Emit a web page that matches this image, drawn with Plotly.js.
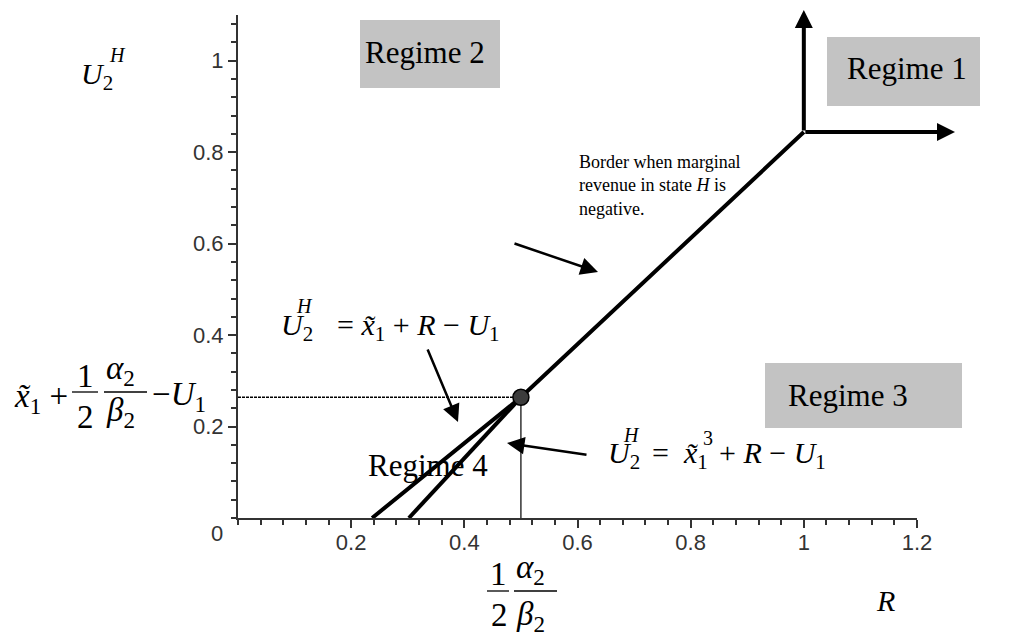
<!DOCTYPE html>
<html><head><meta charset="utf-8">
<script src="https://cdn.plot.ly/plotly-3.0.1.min.js"></script>
<style>html,body{margin:0;padding:0;background:#fff;}#chart{width:1018px;height:639px;}</style>
</head><body><div id="chart"></div>
<script>
// ---- data ----
const borderR = [0.237, 0.5, 1.0];      // border line, marginal revenue in H negative
const borderU = [0, 0.264, 0.844];
const cubicR = [0.302, 0.5];            // U2H = x1^3 + R - U1
const cubicU = [0, 0.264];
const kinkR = [0.5];
const kinkU = [0.264];
const xTickVals = [0.2, 0.4, 0.6, 0.8, 1, 1.2];
const xTickText = ['0.2', '0.4', '0.6', '0.8', '1', '1.2'];
const yTickVals = [0.2, 0.4, 0.6, 0.8, 1];
const yTickText = ['0.2', '0.4', '0.6', '0.8', '1'];
const regimeLabels = ['Regime 1', 'Regime 2', 'Regime 3', 'Regime 4'];
const borderNote = ['Border when marginal', 'revenue in state <i>H</i> is', 'negative.'];

// ---- geometry ----
const W = 1018, H = 639;
const M = {l: 238, r: 101, t: 15, b: 121};
const PW = W - M.l - M.r, PH = H - M.t - M.b;
const XR = [0, 1.2], YR = [0, 1.1];
const px = x => (x - M.l) / PW;
const py = y => (H - M.b - y) / PH;
const dataPx = (r, u) => [M.l + (r - XR[0]) / (XR[1] - XR[0]) * PW, H - M.b - (u - YR[0]) / (YR[1] - YR[0]) * PH];

const SERIF = "'Liberation Serif', 'Times New Roman', serif";
const SANS = "'Liberation Sans', Arial, sans-serif";

function txt(text, x, y, size, xa, extra) {
  return Object.assign({
    text: text, xref: 'paper', yref: 'paper', x: px(x), y: py(y),
    xanchor: xa || 'center', yanchor: 'middle', showarrow: false, align: 'left',
    font: {family: SERIF, size: size, color: '#000'}
  }, extra || {});
}
function arrow(hx, hy, tx, ty, w, s) {
  return {text: '', xref: 'paper', yref: 'paper', x: px(hx), y: py(hy),
    ax: tx - hx, ay: ty - hy, showarrow: true, arrowhead: 2, arrowsize: s,
    arrowwidth: w, arrowcolor: '#000', standoff: 0};
}
function hbar(x0, x1, y) {
  return {type: 'line', xref: 'paper', yref: 'paper', x0: px(x0), x1: px(x1), y0: py(y), y1: py(y),
    line: {color: '#000', width: 1.3}};
}
function box(x0, x1, y0, y1) {
  return {type: 'rect', xref: 'paper', yref: 'paper', x0: px(x0), x1: px(x1), y0: py(y1), y1: py(y0),
    fillcolor: '#c3c3c3', line: {width: 0}, layer: 'below'};
}

const XT = 'x\u0303';

const traces = [
  {x: [0, kinkR[0]], y: [kinkU[0], kinkU[0]], mode: 'lines', line: {color: '#000', width: 1.4, dash: '3px,1px'}, hoverinfo: 'skip'},
  {x: [kinkR[0], kinkR[0]], y: [0, kinkU[0]], mode: 'lines', line: {color: '#000', width: 1.2}, hoverinfo: 'skip'},
  {x: borderR, y: borderU, mode: 'lines', line: {color: '#000', width: 4}, hoverinfo: 'skip'},
  {x: cubicR, y: cubicU, mode: 'lines', line: {color: '#000', width: 4}, hoverinfo: 'skip'},
  {x: kinkR, y: kinkU, mode: 'markers', marker: {size: 16, color: '#3c3c3c', line: {color: '#000', width: 1.5}}, hoverinfo: 'skip'}
];

const corner = dataPx(borderR[2], borderU[2]);

const annotations = [
  // regimes
  txt(regimeLabels[0], 907, 68, 31),
  txt(regimeLabels[1], 425, 52, 31),
  txt(regimeLabels[2], 848, 395, 31),
  txt(regimeLabels[3], 428, 465, 31),
  // border note
  Object.assign(txt(borderNote.join('<br>'), 577, 150, 18, 'left'), {yanchor: 'top'}),
  arrow(598, 272, 513, 243, 2.5, 1.4),
  // corner arrows
  {text: '', xref: 'x', yref: 'paper', x: borderR[2], y: py(10), ax: 0, ay: corner[1] - 10,
   showarrow: true, arrowhead: 2, arrowsize: 0.9, arrowwidth: 4, arrowcolor: '#000', standoff: 0},
  {text: '', xref: 'paper', yref: 'y', x: px(955), y: borderU[2], ax: corner[0] - 955, ay: 0,
   showarrow: true, arrowhead: 2, arrowsize: 0.9, arrowwidth: 4, arrowcolor: '#000', standoff: 0},
  // equation 1
  txt('<i>U</i><sub>2</sub>', 279, 327, 30, 'left'),
  txt('<i>H</i>', 304, 306, 20),
  txt('= <i>' + XT + '</i><sub>1</sub> + <i>R</i> \u2212 <i>U</i><sub>1</sub>', 335, 327, 30, 'left'),
  arrow(458, 422, 427, 348, 2.5, 1.4),
  // equation 2
  txt('<i>U</i><sub>2</sub>', 606, 455, 30, 'left'),
  txt('<i>H</i>', 631, 435, 20),
  txt('=\u2002<i>' + XT + '</i><sub>1</sub>', 650, 455, 30, 'left'),
  txt('3', 708, 438, 20),
  txt('+ <i>R</i> \u2212 <i>U</i><sub>1</sub>', 717, 455, 30, 'left'),
  arrow(507, 443, 588, 455, 2.5, 1.4),
  // left label  x1 + 1/2 a2/b2 - U1
  txt('<i>' + XT + '</i><sub>1</sub> +', 12, 398, 33, 'left'),
  txt('1', 85, 376, 33),
  txt('2', 85, 417, 33),
  txt('<i>\u03b1</i><sub>2</sub>', 104, 370, 33, 'left'),
  txt('<i>\u03b2</i><sub>2</sub>', 104, 412, 33, 'left'),
  txt('\u2212<i>U</i><sub>1</sub>', 150, 396, 33, 'left'),
  // bottom label 1/2 a2/b2
  txt('1', 498, 574, 33),
  txt('2', 499, 615, 33),
  txt('<i>\u03b1</i><sub>2</sub>', 514, 569, 33, 'left'),
  txt('<i>\u03b2</i><sub>2</sub>', 514, 616, 33, 'left'),
  // axis names
  txt('<i>R</i>', 885, 600, 30),
  txt('<i>U</i><sub>2</sub>', 79, 76, 30, 'left'),
  txt('<i>H</i>', 117, 55, 20),
  // origin label
  txt('0', 217, 533, 22, 'center', {font: {family: SANS, size: 22, color: '#333'}})
];

const shapes = [
  box(827, 980, 37, 106),
  box(360, 500, 20, 88),
  box(765, 962, 363, 428),
  hbar(72, 98, 392), hbar(104, 147, 392),
  hbar(487, 509, 591), hbar(514, 557, 591)
];

const axisCommon = {
  showgrid: false, zeroline: false, showline: true, linecolor: '#333', linewidth: 2,
  ticks: 'outside', ticklen: 8, tickwidth: 2, tickcolor: '#333',
  tickfont: {family: SANS, size: 22, color: '#333'},
  tickmode: 'array', fixedrange: true,
  minor: {dtick: 0.04, tick0: 0, ticks: 'outside', ticklen: 5, tickwidth: 2, tickcolor: '#333', showgrid: false}
};

const layout = {
  width: W, height: H, margin: M, paper_bgcolor: '#fff', plot_bgcolor: '#fff',
  showlegend: false,
  xaxis: Object.assign({}, axisCommon, {range: XR, tickvals: xTickVals, ticktext: xTickText, ticklabelstandoff: -4}),
  yaxis: Object.assign({}, axisCommon, {range: YR, tickvals: yTickVals, ticktext: yTickText}),
  annotations: annotations, shapes: shapes
};

Plotly.newPlot('chart', traces, layout, {staticPlot: true, displayModeBar: false});
</script>
</body></html>
